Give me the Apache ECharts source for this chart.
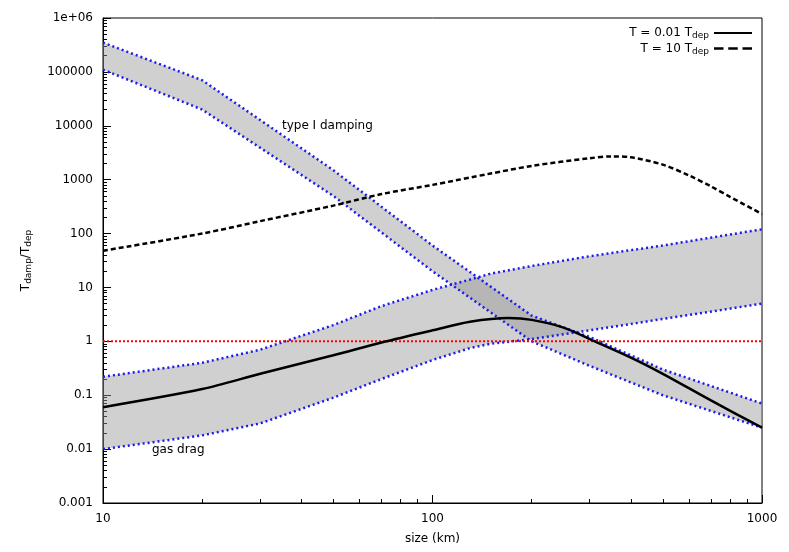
<!DOCTYPE html><html><head><meta charset="utf-8">
<script src="https://cdn.jsdelivr.net/npm/echarts@6/dist/echarts.min.js"></script>
<style>html,body{margin:0;background:#fff}#c{width:789px;height:552px}</style></head><body><div id="c"></div>
<script>
const lineX = [10,20,30,50,70,100,130,170,200,250,300,400,500,700,1000];
const coldY = [0.06,0.13,0.25,0.55,0.95,1.6,2.3,2.7,2.5,1.8,1.1,0.5,0.25,0.08,0.025];
const hotX = [10,20,30,50,70,100,150,200,300,350,400,500,600,700,800,1000];
const hotY = [48,100,170,330,540,800,1300,1800,2500,2700,2600,1900,1200,750,480,230];
const typeX = [10,20,50,100,200,300,500,1000];
const typeUp = [3.5e5,7e4,1500,60,3,1.2,0.3,0.07];
const typeLo = [1.1e5,2e4,500,20,1,0.35,0.1,0.025];
const dragX = [10,20,30,50,70,100,130,150,200,300,500,1000];
const dragUp = [0.22,0.4,0.7,2,4.5,9,14,18,25,38,60,120];
const dragLo = [0.01,0.018,0.03,0.09,0.2,0.45,0.75,0.9,1.1,1.6,2.6,5];
const yTicks = ['0.001','0.01','0.1','1','10','100','1000','10000','100000','1e+06'];

const zip=(xs,ys)=>xs.map((x,i)=>[x,ys[i]]);
function band(xs,up,lo){
  return {type:'custom',silent:true,z:1,data:[0],
    renderItem:(p,api)=>{
      const pts=xs.map((x,i)=>api.coord([x,up[i]])).concat(xs.map((x,i)=>api.coord([x,lo[i]])).reverse());
      return {type:'polygon',shape:{points:pts},style:{fill:'rgba(150,150,150,0.45)'}};
    }};
}
const dotted=(xs,ys)=>({type:'line',data:zip(xs,ys),symbol:'none',silent:true,z:3,lineStyle:{color:'#1a1aee',width:2.5,type:[2,3]}});
const chart=echarts.init(document.getElementById('c'));
chart.setOption({
  animation:false,
  grid:{left:103,right:27,top:18,bottom:49,show:true,borderColor:'#000',borderWidth:1},
  legend:{top:22,right:32,orient:'vertical',align:'right',itemWidth:38,itemHeight:10,itemGap:2,
    textStyle:{fontFamily:'DejaVu Sans',fontSize:12,color:'#000',rich:{s:{fontSize:9,verticalAlign:'bottom',padding:[6,0,0,0]}}},
    formatter:n=>n==='c'?'T = 0.01 T{s|dep}':'T = 10 T{s|dep}',
    data:[{name:'c',icon:'path://M0,4H40V6H0Z'},{name:'h',icon:'path://M0,4H8V6H0ZM12,4H20V6H12ZM24,4H32V6H24Z'}]},
  xAxis:{type:'log',min:10,max:1000,logBase:10,name:'size (km)',nameLocation:'middle',nameGap:30,
    nameTextStyle:{fontFamily:'DejaVu Sans',fontSize:12,color:'#000'},
    axisLine:{lineStyle:{color:'#000'}},axisTick:{inside:true,length:8,lineStyle:{color:'#000'}},
    minorTick:{show:true,splitNumber:9,length:4,lineStyle:{color:'#000'}},
    axisLabel:{fontFamily:'DejaVu Sans',fontSize:12,color:'#000',margin:10,formatter:v=>String(Math.round(v))},splitLine:{show:false}},
  yAxis:{type:'log',min:0.001,max:1e6,logBase:10,interval:1,
    name:'T{s|damp}/T{s|dep}',nameLocation:'middle',nameGap:70,nameRotate:90,
    nameTextStyle:{fontFamily:'DejaVu Sans',fontSize:12,color:'#000',rich:{s:{fontSize:9,padding:[6,0,0,0]}}},
    axisLine:{lineStyle:{color:'#000'}},axisTick:{inside:true,length:8,lineStyle:{color:'#000'}},
    minorTick:{show:true,splitNumber:9,length:4,lineStyle:{color:'#000'}},
    axisLabel:{fontFamily:'DejaVu Sans',fontSize:12,color:'#000',margin:10,
      formatter:v=>{const e=Math.round(Math.log10(v));return yTicks[e+3];}},splitLine:{show:false}},
  graphic:[
    {type:'text',left:282,top:120,style:{text:'type I damping',font:'12px DejaVu Sans',fill:'#000'}},
    {type:'text',left:152,top:444,style:{text:'gas drag',font:'12px DejaVu Sans',fill:'#000'}}],
  series:[
    band(typeX,typeUp,typeLo), band(dragX,dragUp,dragLo),
    dotted(typeX,typeUp),dotted(typeX,typeLo),dotted(dragX,dragUp),dotted(dragX,dragLo),
    {type:'line',data:[[10,1],[1000,1]],symbol:'none',silent:true,z:3,lineStyle:{color:'#ff0000',width:2,type:[2,2]}},
    {name:'c',type:'line',data:zip(lineX,coldY),smooth:0.3,symbol:'none',z:4,lineStyle:{color:'#000',width:2.5},itemStyle:{color:'#000'}},
    {name:'h',type:'line',data:zip(hotX,hotY),smooth:0.3,symbol:'none',z:4,lineStyle:{color:'#000',width:2.5,type:[5,3]},itemStyle:{color:'#000'}}
  ]
});
</script></body></html>
